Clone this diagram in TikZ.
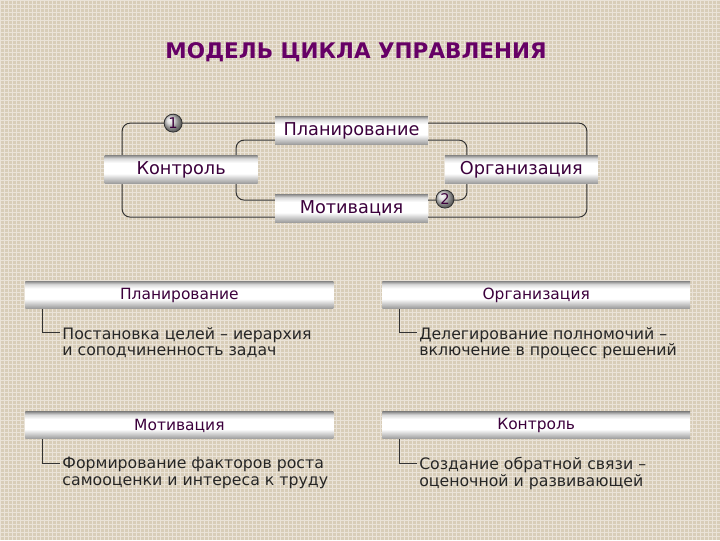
\documentclass[tikz,border=0pt]{standalone}
\usepackage{fontspec}
\setmainfont{DejaVu Sans}
\usetikzlibrary{calc}

\def\unit{0.025cm}
\definecolor{canvas}{RGB}{216,205,184}
\definecolor{heading}{RGB}{102,0,102}
\definecolor{label}{RGB}{60,0,60}
\pgfdeclareverticalshading{barshade}{100bp}{color(0bp)=(gray!80); color(25bp)=(gray!80);
  color(33bp)=(gray!45); color(43bp)=(white); color(62bp)=(white);
  color(70bp)=(gray!30); color(75bp)=(gray!85); color(100bp)=(gray!85)}

\tikzset{
  bar/.style={shading=barshade, inner sep=0pt, text=label, minimum height=27*\unit},
  cyclebar/.style={bar, minimum width=153*\unit, minimum height=28*\unit, font=\fontsize{12.6}{14}\selectfont},
  stagebar/.style={bar, minimum width=308*\unit, font=\fontsize{11}{12}\selectfont},
  desc/.style={anchor=north west, inner sep=0pt, align=left, text=black!85,
    font=\fontsize{11.2}{11.6}\selectfont},
  loopline/.style={draw=black!80, line width=0.7pt, rounded corners=8*\unit},
  ball/.style={circle, draw=black!80, line width=0.6pt, ball color=gray!35, text=label,
    inner sep=0pt, minimum size=18*\unit, font=\fontsize{10.5}{10}\selectfont},
  link/.style={draw=black!80, line width=0.6pt}
}

\begin{document}
\begin{tikzpicture}[x=\unit, y=-\unit]
  \fill[canvas] (0,0) rectangle (720,540);
  \draw[canvas!55!white, line width=0.3pt, xstep=0.1cm, ystep=0.1cm] (0,0) grid (720,540);
  \useasboundingbox (0,0) rectangle (720,540);

  \node[font=\bfseries\fontsize{15.3}{17}\selectfont, text=heading] (heading) at (356,52) {МОДЕЛЬ ЦИКЛА УПРАВЛЕНИЯ};

  \coordinate (outerNW) at (122,123);
  \coordinate (outerSE) at (587,217);
  \coordinate (innerNW) at (236,140);
  \coordinate (innerSE) at (467,200);
  \draw[loopline] (outerNW) rectangle (outerSE);
  \draw[loopline] (innerNW) rectangle (innerSE);

  \node[cyclebar] (plan) at (351.5,130.5) {Планирование};
  \node[cyclebar] (ctrl) at (181,169.5) {Контроль};
  \node[cyclebar] (org) at (521.5,169.5) {Организация};
  \node[cyclebar] (motiv) at (351.5,208.5) {Мотивация};
  \node[ball] (one) at (173,123) {1};
  \node[ball] (two) at (445,199) {2};

  \foreach \name/\x/\y/\title/\lineA/\lineB in {
      planbar/25/295/Планирование/Постановка целей – иерархия/и соподчиненность задач,
      orgbar/382/295/Организация/Делегирование полномочий –/включение в процесс решений,
      motivbar/25/425.5/Мотивация/Формирование факторов роста/самооценки и интереса к труду,
      ctrlbar/382/425.5/Контроль/Создание обратной связи –/оценочной и развивающей} {
    \node[stagebar, anchor=west] (\name) at (\x,\y) {\title};
    \node[desc] (\name text) at ($(\name.south west)+(37,18)$) {\lineA\\\lineB};
    \draw[link] ($(\name.south west)+(17,0)$) |- ($(\name text.north west)+(-2,6)$);
  }
\end{tikzpicture}
\end{document}
